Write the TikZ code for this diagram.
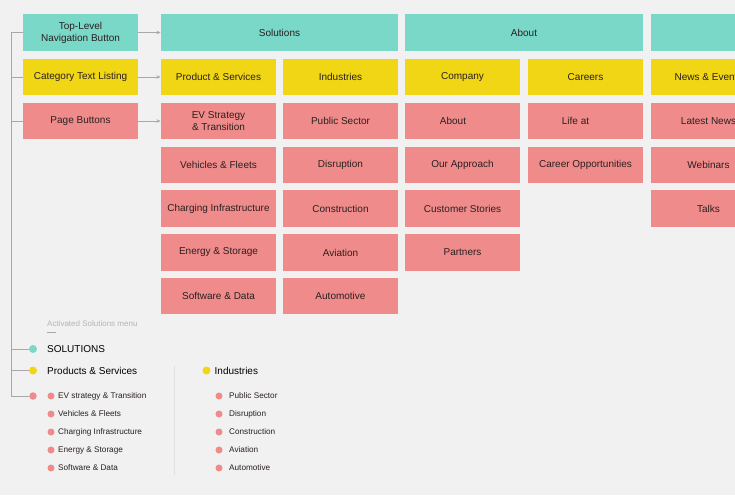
\documentclass[tikz,border=0pt]{standalone}
\usepackage{fontspec}
\setmainfont{Liberation Sans}
\usetikzlibrary{arrows.meta}
\definecolor{navteal}{HTML}{79D8C8}
\definecolor{catyellow}{HTML}{F0D614}
\definecolor{pagepink}{HTML}{F08B8B}
\definecolor{paper}{HTML}{F1F1F1}
\definecolor{wire}{HTML}{A8A8A8}
\definecolor{ink}{HTML}{2A2020}

\begin{document}
\begin{tikzpicture}[x=1pt, y=-1pt,
  box/.style={fill=#1, text=ink, inner sep=0pt, minimum width=115.5pt,
              minimum height=36.5pt, align=center, font=\fontsize{10}{12}\selectfont},
  wide/.style={box=navteal, minimum width=237.5pt},
  dot/.style={circle, fill=#1, inner sep=0pt, minimum size=8pt},
  subdot/.style={circle, fill=pagepink, inner sep=0pt, minimum size=7pt},
  head/.style={anchor=west, inner sep=0pt, text=black, font=\fontsize{10}{12}\selectfont},
  item/.style={anchor=west, inner sep=0pt, text=ink, font=\fontsize{8.2}{10}\selectfont},
  link/.style={draw=wire, line width=0.8pt, -{Stealth[length=4pt, width=3.5pt]}},
  tree/.style={draw=wire, line width=1pt}]
  \useasboundingbox (0,0) rectangle (735,495);
  \clip (0,0) rectangle (735,495);
  \fill[paper] (0,0) rectangle (735,495);

  % legend
  \node[box=navteal] (nav) at (80.5,32.5) {Top-Level\\Navigation Button};
  \node[box=catyellow] (cat) at (80.5,77) {Category Text Listing};
  \node[box=pagepink] (pages) at (80.5,121) {Page Buttons};

  % top level
  \node[wide] (solutions) at (279.5,32.5) {Solutions};
  \node[wide] (about) at (524,32.5) {About};
  \node[wide] (resources) at (769.5,32.5) {};

  % solutions
  \node[box=catyellow] (products) at (218.5,77) {Product \& Services};
  \node[box=pagepink] (ev) at (218.5,121) {EV Strategy\\\& Transition};
  \node[box=pagepink] (vehicles) at (218.5,165) {Vehicles \& Fleets};
  \node[box=pagepink] (charging) at (218.5,208.5) {Charging Infrastructure};
  \node[box=pagepink] (energy) at (218.5,252.5) {Energy \& Storage};
  \node[box=pagepink] (software) at (218.5,296) {Software \& Data};

  \node[box=catyellow] (industries) at (340.5,77) {Industries};
  \node[box=pagepink] (public) at (340.5,121) {Public Sector};
  \node[box=pagepink] (disruption) at (340.5,165) {Disruption};
  \node[box=pagepink] (construction) at (340.5,208.5) {Construction};
  \node[box=pagepink] (aviation) at (340.5,252.5) {Aviation};
  \node[box=pagepink] (automotive) at (340.5,296) {Automotive};

  % about
  \node[box=catyellow] (company) at (462.5,77) {Company};
  \node[box=pagepink] (aboutus) at (462.5,121) {\hspace*{-19pt}About};
  \node[box=pagepink] (approach) at (462.5,165) {Our Approach};
  \node[box=pagepink] (stories) at (462.5,208.5) {Customer Stories};
  \node[box=pagepink] (partners) at (462.5,252.5) {Partners};

  \node[box=catyellow] (careers) at (585.5,77) {Careers};
  \node[box=pagepink] (life) at (585.5,121) {\hspace*{-20pt}Life at};
  \node[box=pagepink] (jobs) at (585.5,165) {Career Opportunities};

  \node[box=catyellow] (events) at (708.5,77) {News \& Events};
  \node[box=pagepink] (latest) at (708.5,121) {Latest News};
  \node[box=pagepink] (webinars) at (708.5,165) {Webinars};
  \node[box=pagepink] (talks) at (708.5,208.5) {Talks};

  \draw[link] (nav) -- (solutions);
  \draw[link] (cat) -- (products);
  \draw[link] (pages) -- (ev);

  % activated menu
  \node[anchor=west, inner sep=0pt, text=wire!85, font=\fontsize{8}{10}\selectfont]
    (caption) at (47,324) {Activated Solutions menu};
  \draw[wire, line width=0.8pt] ([yshift=-5pt]caption.south west) -- ++(9,0);

  \node[dot=navteal] (soldot) at (33,349) {};
  \node[head] (soltext) at (47,349) {SOLUTIONS};
  \node[dot=catyellow] (proddot) at (33,370.5) {};
  \node[head] (prodtext) at (47,370.5) {Products \& Services};
  \node[dot=pagepink, minimum size=7.5pt] (pagedot) at (33,396) {};

  \node[subdot] (s1) at (51,396) {};
  \node[item] (t1) at (58,396) {EV strategy \& Transition};
  \node[subdot] (s2) at (51,414) {};
  \node[item] (t2) at (58,414) {Vehicles \& Fleets};
  \node[subdot] (s3) at (51,432) {};
  \node[item] (t3) at (58,432) {Charging Infrastructure};
  \node[subdot] (s4) at (51,450) {};
  \node[item] (t4) at (58,450) {Energy \& Storage};
  \node[subdot] (s5) at (51,468) {};
  \node[item] (t5) at (58,468) {Software \& Data};

  \coordinate (sepTop) at (174,366);
  \coordinate (sepBot) at (174,475);
  \draw[draw=black!12, line width=0.8pt] (sepTop) -- (sepBot);

  \node[dot=catyellow] (inddot) at (206.5,370.5) {};
  \node[head] (indtext) at (214.5,370.5) {Industries};
  \node[subdot] (i1) at (219,396) {};
  \node[item] (u1) at (229,396) {Public Sector};
  \node[subdot] (i2) at (219,414) {};
  \node[item] (u2) at (229,414) {Disruption};
  \node[subdot] (i3) at (219,432) {};
  \node[item] (u3) at (229,432) {Construction};
  \node[subdot] (i4) at (219,450) {};
  \node[item] (u4) at (229,450) {Aviation};
  \node[subdot] (i5) at (219,468) {};
  \node[item] (u5) at (229,468) {Automotive};

  % left bracket
  \coordinate (spine) at (11,32.5);
  \draw[tree] (nav.west) -- (spine) |- (pagedot.west);
  \draw[tree] (cat.west) -- (cat.west -| spine);
  \draw[tree] (pages.west) -- (pages.west -| spine);
  \draw[tree] (soldot.west) -- (soldot.west -| spine);
  \draw[tree] (proddot.west) -- (proddot.west -| spine);
\end{tikzpicture}
\end{document}
